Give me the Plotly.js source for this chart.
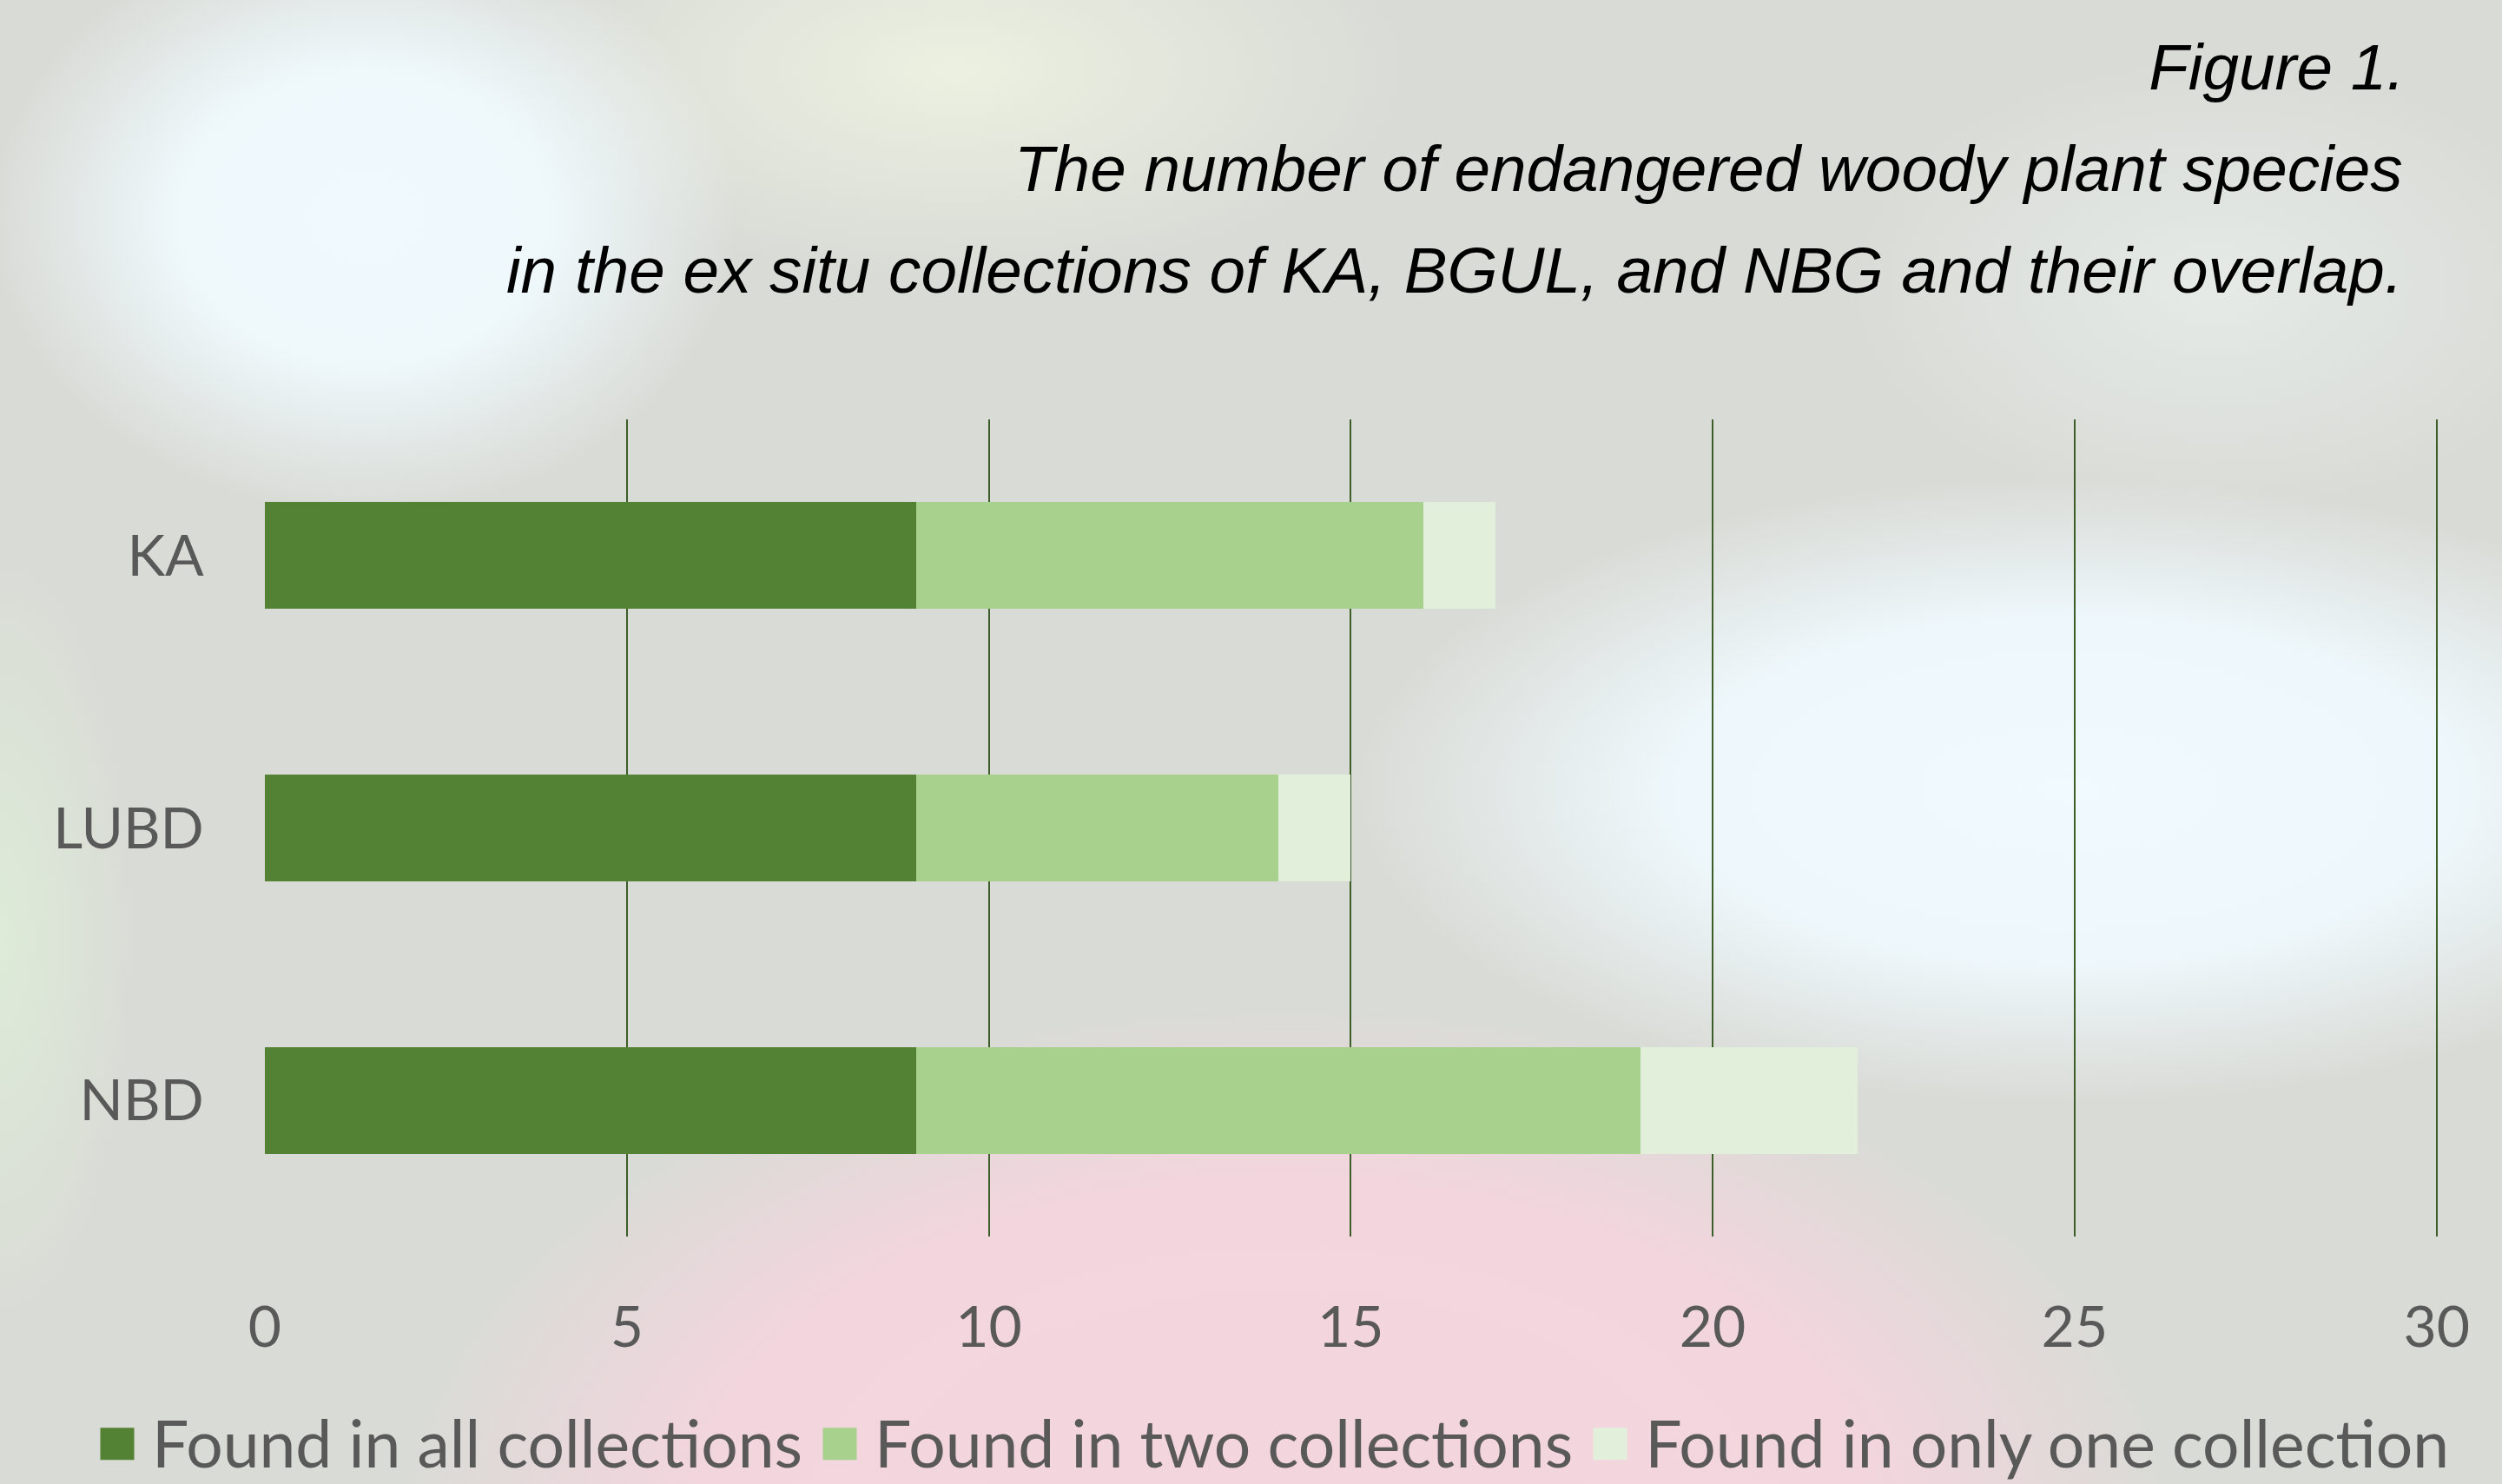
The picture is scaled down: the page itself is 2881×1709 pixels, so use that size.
<!DOCTYPE html>
<html>
<head>
<meta charset="utf-8">
<script src="https://cdn.plot.ly/plotly-3.0.1.min.js"></script>
<style>
  html, body { margin: 0; padding: 0; }
  body {
    width: 2881px; height: 1709px; overflow: hidden;
    background:
      radial-gradient(ellipse 430px 340px at 420px 250px, rgba(240,250,254,1), rgba(240,250,254,0.92) 50%, rgba(240,250,254,0) 100%),
      radial-gradient(ellipse 820px 360px at 2380px 910px, rgba(240,250,255,1), rgba(240,250,255,0.9) 55%, rgba(240,250,255,0) 100%),
      radial-gradient(ellipse 420px 260px at 2550px 330px, rgba(234,241,238,0.7), rgba(234,241,238,0) 100%),
      radial-gradient(ellipse 1020px 600px at 1480px 1760px, rgba(244,213,222,1), rgba(244,213,222,0.92) 68%, rgba(244,213,222,0) 100%),
      radial-gradient(ellipse 520px 240px at 1100px 80px, rgba(238,243,226,0.9), rgba(238,243,226,0) 100%),
      radial-gradient(ellipse 160px 460px at 0px 1080px, rgba(222,237,216,0.9), rgba(222,237,216,0) 100%),
      #d9dbd6;
  }
  #chart { position: absolute; left: 0; top: 0; width: 2881px; height: 1709px; }
</style>
</head>
<body>
<div id="chart"></div>
<script>
// ---- data ----
const categories = ['KA', 'LUBD', 'NBD'];
const foundAll = [9, 9, 9];
const foundTwo = [7, 5, 10];
const foundOne = [1, 1, 3];
const seriesNames = ['Found in all collections', 'Found in two collections', 'Found in only one collection'];
const seriesColors = ['#548235', '#A9D18E', '#E2EFDA'];
const xTicks = [0, 5, 10, 15, 20, 25, 30];
const titleLines = ['Figure 1.',
  'The number of endangered woody plant species',
  'in the ex situ collections of KA, BGUL, and NBG and their overlap.'];

const seriesValues = [foundAll, foundTwo, foundOne];
const traces = seriesValues.map((vals, i) => ({
  type: 'bar',
  orientation: 'h',
  y: categories,
  x: vals,
  name: seriesNames[i],
  marker: { color: seriesColors[i], line: { width: 0 } },
  hoverinfo: 'skip'
}));

const W = 2881, H = 1709;
const mL = 305, mR = 67, mT = 483, mB = 285;
const plotH = H - mT - mB;
const plotW = W - mL - mR;
const rightX = 2769;

const tickFont = { family: 'Lato, "Open Sans", sans-serif', size: 66, color: '#595959' };
const titleFont = { family: '"Liberation Sans", Arial, sans-serif', size: 74.7, color: '#000000' };

const layout = {
  width: W, height: H,
  paper_bgcolor: 'rgba(0,0,0,0)',
  plot_bgcolor: 'rgba(0,0,0,0)',
  margin: { l: mL, r: mR, t: mT, b: mB, pad: 0, autoexpand: false },
  barmode: 'stack',
  bargap: 0.608,
  showlegend: true,
  title: {
    text: '<i>' + titleLines[0] + '</i>',
    font: titleFont,
    xref: 'container', x: rightX / W, xanchor: 'right',
    yref: 'container', y: 1 - 77 / H, yanchor: 'middle'
  },
  annotations: [
    { text: '<i>' + titleLines[1] + '</i>', font: titleFont, showarrow: false,
      xref: 'paper', x: (rightX - mL) / plotW, xanchor: 'right',
      yref: 'paper', y: (H - mB - 194) / plotH, yanchor: 'middle' },
    { text: '<i>' + titleLines[2] + '</i>', font: titleFont, showarrow: false,
      xref: 'paper', x: (rightX - mL) / plotW, xanchor: 'right',
      yref: 'paper', y: (H - mB - 311) / plotH, yanchor: 'middle' }
  ],
  xaxis: {
    range: [0, 30.1],
    tickvals: xTicks,
    ticktext: xTicks.map(String),
    showgrid: true, gridcolor: '#3d5e28', gridwidth: 2,
    zeroline: true, zerolinecolor: 'rgba(0,0,0,0)', zerolinewidth: 1,
    showline: false,
    ticks: 'outside', ticklen: 47, tickcolor: 'rgba(0,0,0,0)',
    tickfont: tickFont,
    fixedrange: true
  },
  yaxis: {
    type: 'category',
    categoryorder: 'array', categoryarray: categories,
    autorange: 'reversed',
    showgrid: false, zeroline: false, showline: false,
    ticks: 'outside', ticklen: 56, tickcolor: 'rgba(0,0,0,0)',
    tickfont: tickFont,
    fixedrange: true
  },
  legend: {
    orientation: 'h',
    traceorder: 'normal',
    xref: 'paper', x: (97 - mL) / plotW, xanchor: 'left',
    yref: 'paper', y: (H - mB - 1661) / plotH, yanchor: 'middle',
    font: { family: 'Lato, "Open Sans", sans-serif', size: 75, color: '#595959' },
    itemwidth: 68,
    bgcolor: 'rgba(0,0,0,0)',
    itemclick: false, itemdoubleclick: false
  }
};

function fixLegendSymbols(gd) {
  gd.querySelectorAll('.legend .traces').forEach(item => {
    const text = item.querySelector('.legendtext');
    const path = item.querySelector('.legendpoints path');
    if (!text || !path) return;
    const tb = text.getBoundingClientRect();
    const pb = path.getBoundingClientRect();
    const cx = (pb.left + pb.right) / 2;
    const dx = (tb.left - 40) - cx;
    const base = path.getAttribute('transform') || '';
    path.setAttribute('transform', base + ' translate(' + dx + ',2) scale(3.25,3.1)');
    path.style.strokeWidth = '0';
  });
}

function draw() {
  return Plotly.newPlot('chart', traces, layout, { staticPlot: true, displayModeBar: false })
    .then(fixLegendSymbols);
}

const fontLoads = [
  '66px Lato', '75px Lato', 'italic 75px "Liberation Sans"'
].map(f => document.fonts.load(f).catch(() => null));
Promise.all(fontLoads).then(draw, draw);
</script>
</body>
</html>
